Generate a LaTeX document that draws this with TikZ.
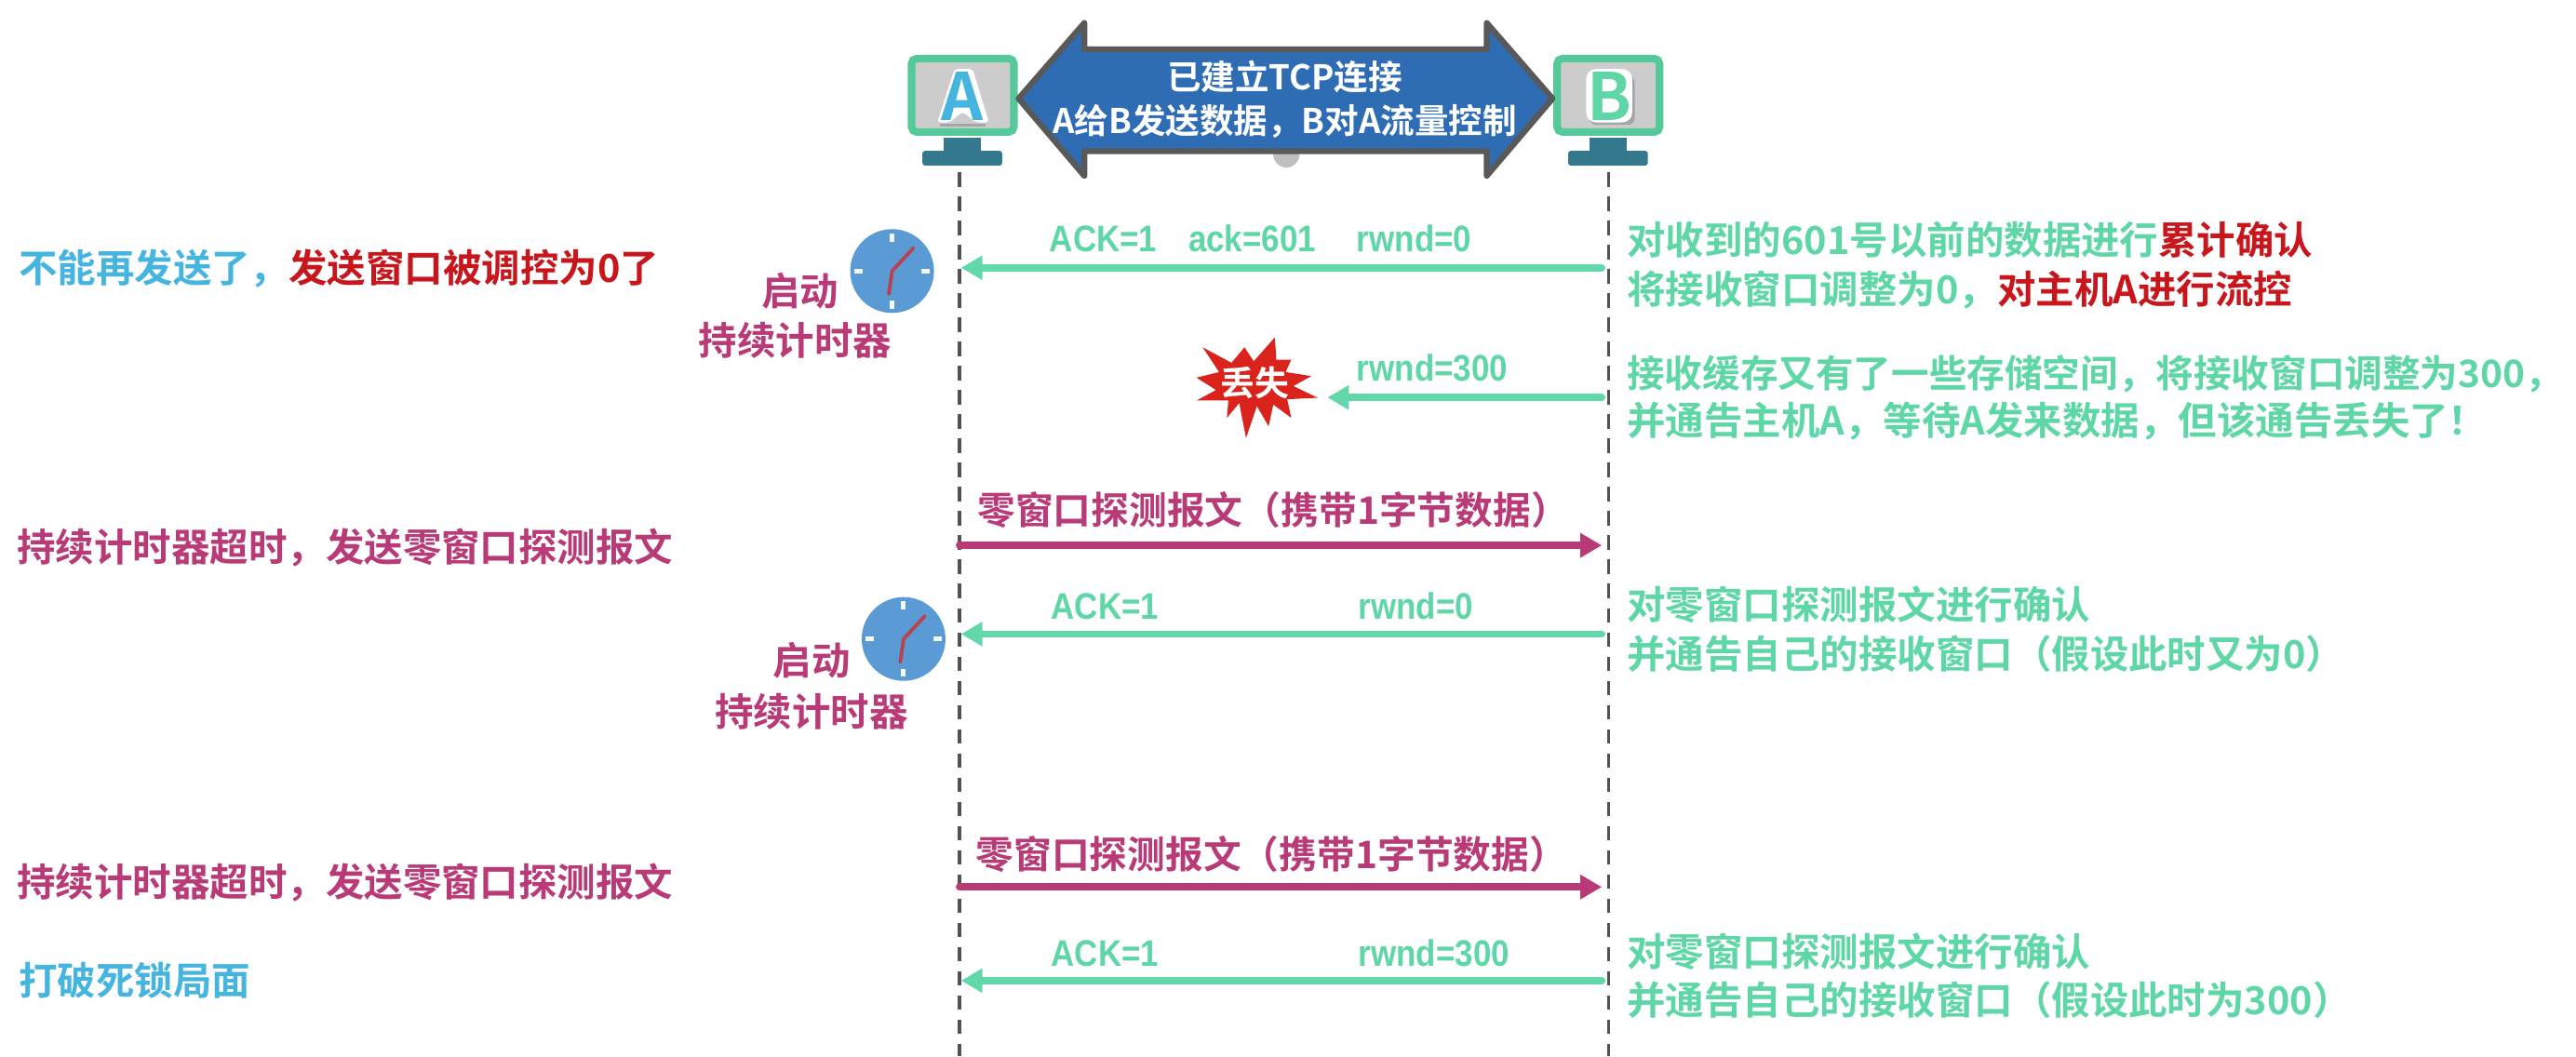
\documentclass[tikz,border=0pt]{standalone}
\usepackage{fontspec}
\setmainfont{Noto Sans CJK SC}[BoldFont={Noto Sans CJK SC Bold}]
\newfontfamily\narf{Liberation Sans}[FakeStretch=0.88]
\usetikzlibrary{arrows.meta}
\newcommand\fwc{\char"FF0C\relax}
\newcommand\fwl{\char"FF08\relax}
\newcommand\fwr{\char"FF09\relax}
\newcommand\fwx{\char"FF01\relax}
\definecolor{grn}{HTML}{5FD6A6}
\definecolor{arrgrn}{HTML}{62D8AA}
\definecolor{cyn}{HTML}{45B5E0}
\definecolor{rd}{HTML}{C8161D}
\definecolor{pk}{HTML}{B83B77}
\definecolor{blu}{HTML}{2E6DB4}
\definecolor{frm}{HTML}{56C99B}
\definecolor{scr}{HTML}{CCCCCC}
\definecolor{std}{HTML}{33788C}
\definecolor{clk}{HTML}{5B9BD5}
\definecolor{hand}{HTML}{B8424F}
\definecolor{burst}{HTML}{D9231C}
\tikzset{
  x=0.017653cm,y=-0.017653cm,
  txt/.style={font=\bfseries\fontsize{11.8}{13}\selectfont,inner sep=0pt,anchor=base west},
  rtxt/.style={font=\bfseries\fontsize{11.8}{13}\selectfont,inner sep=0pt,anchor=base west,text=grn},
  lab/.style={font=\narf\bfseries\fontsize{11.3}{13}\selectfont,inner sep=0pt,text=grn,anchor=base west},
  plab/.style={font=\bfseries\fontsize{11.6}{13}\selectfont,inner sep=0pt,text=pk,anchor=base},
  ctr/.style={font=\bfseries\fontsize{11.8}{13}\selectfont,inner sep=0pt,text=pk,anchor=center},
  wht/.style={inner sep=0pt,text=white,font=\bfseries\fontsize{10.4}{12}\selectfont,anchor=center},
  ga/.style={draw=arrgrn,line width=2.2pt,line cap=round,-{Triangle[length=2.3mm,width=2.5mm]}},
  pa/.style={draw=pk,line width=2.2pt,line cap=round,-{Triangle[length=2.3mm,width=2.5mm]}},
  life/.style={draw=black!68,line width=0.95pt,dash pattern=on 4.5pt off 2.9pt},
  mon/.style={draw=frm,fill=scr,line width=2.3pt,rounded corners=1.6pt,minimum width=1.10cm,minimum height=0.79cm,inner sep=0pt},
  letter/.style={font=\bfseries\fontsize{20}{21}\selectfont,inner sep=0pt,anchor=center},
  clockface/.style={fill=clk,draw=none},
  tick/.style={draw=white!92!clk,line width=1.4pt},
  hnd/.style={draw=hand,line width=1.1pt,line cap=round,line join=round},
}
\begin{document}
\begin{tikzpicture}
\useasboundingbox (0,0) rectangle (1568,643.5);
% lifelines
\coordinate (atop) at (584,105); \coordinate (abot) at (584,643);
\coordinate (btop) at (979,105); \coordinate (bbot) at (979,643);
\draw[life] (atop) -- (abot);
\draw[life] (btop) -- (bbot);
% monitors
\fill[std] (574.5,84) rectangle (597,92);
\fill[std,rounded corners=0.8pt] (561.5,91.8) rectangle (610,100.8);
\fill[std] (967.5,84) rectangle (990,92);
\fill[std,rounded corners=0.8pt] (954.5,91.8) rectangle (1003,100.8);
\node[mon] (A) at (586,58) {};
\node[mon] (B) at (979,58) {};
\fill[black!35] (572,75.5) -- (600,75.5) -- (600,77) -- (572,77) -- cycle;
\fill[white,rounded corners=1pt] (570.5,74.5) -- (581,42) -- (592,42) -- (602,74.5) -- (594,74.5) -- (586,68) -- (578,74.5) -- cycle;
\fill[black!35,rounded corners=2pt] (967.5,46) rectangle (995,76);
\fill[white,rounded corners=3pt] (965.5,42) rectangle (993.5,74.5);
\node[letter,text=cyn] (la) at (586,58.5) {A};
\node[letter,text=grn] (lb) at (979.5,58.5) {B};
% connection arrow
\fill[black!25] (783,94) circle (8);
\draw[draw=black!65,fill=blu,line width=1.8pt,line join=round]
 (620,60) -- (660,14) -- (660,30) -- (905,30) -- (905,14) -- (945,60) -- (905,107) -- (905,92) -- (660,92) -- (660,107) -- cycle;
\node[wht] (c1) at (782,47) {已建立TCP连接};
\node[wht] (c2) at (782,74) {A给B发送数据\fwc B对A流量控制};
% message coordinates
\coordinate (b1) at (975,163); \coordinate (a1) at (585,163);
\coordinate (b2) at (975,242); \coordinate (x2) at (808,242);
\coordinate (a3) at (584,332); \coordinate (b3) at (975,332);
\coordinate (b4) at (975,386); \coordinate (a4) at (585,386);
\coordinate (a5) at (584,540); \coordinate (b5) at (975,540);
\coordinate (b6) at (975,597); \coordinate (a6) at (585,597);
\draw[ga] (b1) -- (a1);
\draw[ga] (b2) -- (x2);
\draw[pa] (a3) -- (b3);
\draw[ga] (b4) -- (a4);
\draw[pa] (a5) -- (b5);
\draw[ga] (b6) -- (a6);
% message labels
\node[lab] (l1a) at (638.5,153) {ACK=1};
\node[lab] (l1b) at (723,153) {ack=601};
\node[lab] (l1c) at (825.5,153) {rwnd=0};
\node[lab] (l2) at (825.5,232) {rwnd=300};
\node[plab] (l3) at (775,319) {零窗口探测报文\fwl 携带1字节数据\fwr};
\node[lab] (l4a) at (639.5,377) {ACK=1};
\node[lab] (l4b) at (826.5,377) {rwnd=0};
\node[plab] (l5) at (774,529) {零窗口探测报文\fwl 携带1字节数据\fwr};
\node[lab] (l6a) at (639.5,588) {ACK=1};
\node[lab] (l6b) at (826.5,588) {rwnd=300};
% left texts
\node[txt] (t1) at (11,172) {\textcolor{cyn}{不能再发送了\fwc}\textcolor{rd}{发送窗口被调控为0了}};
\node[txt,text=pk] (t2) at (10,342) {持续计时器超时\fwc 发送零窗口探测报文};
\node[txt,text=pk] (t3) at (10,546) {持续计时器超时\fwc 发送零窗口探测报文};
\node[txt,text=cyn] (t4) at (11,606) {打破死锁局面};
% right texts
\node[rtxt] (r1) at (990,155) {对收到的601号以前的数据进行\textcolor{rd}{累计确认}};
\node[rtxt] (r2) at (990,185) {将接收窗口调整为0\fwc\textcolor{rd}{对主机A进行流控}};
\node[rtxt,font=\bfseries\fontsize{11.55}{13}\selectfont] (r3) at (990,236) {接收缓存又有了一些存储空间\fwc 将接收窗口调整为300\fwc};
\node[rtxt] (r4) at (990,265) {并通告主机A\fwc 等待A发来数据\fwc 但该通告丢失了\fwx};
\node[rtxt] (r5) at (990,377) {对零窗口探测报文进行确认};
\node[rtxt] (r6) at (990,407) {并通告自己的接收窗口\fwl 假设此时又为0\fwr};
\node[rtxt] (r7) at (990,588) {对零窗口探测报文进行确认};
\node[rtxt] (r8) at (990,618) {并通告自己的接收窗口\fwl 假设此时为300\fwr};
% clock 1
\begin{scope}[shift={(543,165)}]
\fill[clockface] (0,0) circle (25.5);
\draw[tick] (0,-23) -- (0,-18) (0,23) -- (0,18) (-23,0) -- (-18,0) (23,0) -- (18,0);
\draw[hnd] (13,-14) -- (0,0) -- (-2,14);
\end{scope}
\node[ctr] (k1) at (487,177) {启动};
\node[ctr] (k2) at (484,207) {持续计时器};
% clock 2
\begin{scope}[shift={(550,389)}]
\fill[clockface] (0,0) circle (25.5);
\draw[tick] (0,-23) -- (0,-18) (0,23) -- (0,18) (-23,0) -- (-18,0) (23,0) -- (18,0);
\draw[hnd] (13,-14) -- (0,0) -- (-2,14);
\end{scope}
\node[ctr] (k3) at (494,402) {启动};
\node[ctr] (k4) at (494,433) {持续计时器};
% burst
\begin{scope}[shift={(713.8,192.6)},x=0.0033333cm,y=-0.0033333cm]
\fill[burst] (97,100) -- (190,150) -- (232,100) -- (262,145) -- (330,68) -- (335,140) -- (383,140) -- (365,180) -- (448,193) -- (390,225) -- (468,263) -- (370,268) -- (383,328) -- (325,285) -- (310,355) -- (272,290) -- (237,393) -- (215,280) -- (175,328) -- (180,272) -- (77,272) -- (140,238) -- (77,198) -- (150,180) -- cycle;
\node[inner sep=0pt,text=white,font=\bfseries\fontsize{10.5}{11}\selectfont] (s) at (265,215) {丢失};
\end{scope}
\end{tikzpicture}
\end{document}
